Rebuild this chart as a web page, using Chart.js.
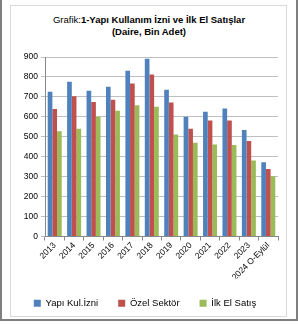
<!DOCTYPE html>
<html>
<head>
<meta charset="utf-8">
<script src="https://cdn.jsdelivr.net/npm/chart.js@4"></script>
<style>
  html, body { margin: 0; padding: 0; background: #fff; }
  #wrap { position: relative; width: 298px; height: 324px; overflow: hidden; }
  #outer { position: absolute; left: 0; top: 0; width: 294px; height: 319px; border: 2px solid #7f7f7f; border-top: none; }
  #inner { position: absolute; left: 10px; top: 5px; width: 275px; height: 310px; border: 1px solid #d9d9d9; }
  #title { position: absolute; left: 0; top: 14px; width: 298px; text-align: center;
           font-family: 'Liberation Sans', 'Noto Sans', sans-serif; font-size: 9.5px; line-height: 12px; color: #000; }
  canvas { position: absolute; left: 0; top: 0; }
</style>
</head>
<body>
<div id="wrap">
  <div id="outer"></div>
  <div id="inner"></div>
  <div id="title">Grafik:<b>1-Yapı Kullanım İzni ve İlk El Satışlar</b><br><b>(Daire, Bin Adet)</b></div>
  <canvas id="chart" width="298" height="324"></canvas>
</div>
<script>
// Data (bin adet)
const years = ['2013', '2014', '2015', '2016', '2017', '2018', '2019', '2020', '2021', '2022', '2023', '2024 O-Eylül'];
const yapiKulIzni = [726, 776, 731, 751, 831, 891, 736, 600, 625, 642, 534, 372];
const ozelSektor = [639, 703, 675, 686, 767, 812, 672, 540, 581, 581, 479, 339];
const ilkElSatis = [528, 540, 600, 630, 658, 650, 511, 470, 461, 459, 381, 302];
const yTicks = [0, 100, 200, 300, 400, 500, 600, 700, 800, 900];

const font = "'Liberation Sans', 'Noto Sans', sans-serif";
Chart.defaults.font.family = font;
Chart.defaults.color = '#000';

const ctx = document.getElementById('chart').getContext('2d');
new Chart(ctx, {
    type: 'bar',
    data: {
        labels: years,
        datasets: [
            { label: 'Yapı Kul.İzni', data: yapiKulIzni, backgroundColor: '#4f81bd' },
            { label: 'Özel Sektör', data: ozelSektor, backgroundColor: '#c0504d' },
            { label: 'İlk El Satış', data: ilkElSatis, backgroundColor: '#9bbb59' }
        ]
    },
    options: {
        responsive: false,
        animation: false,
        layout: { padding: { left: 12, right: 20, top: 57, bottom: 6 } },
        datasets: {
            bar: { categoryPercentage: 0.72, barPercentage: 1.0 }
        },
        scales: {
            x: {
                afterFit: s => { s.height = 42; },
                grid: { offset: true, drawOnChartArea: false, color: '#888', tickLength: 4 },
                border: { color: '#888' },
                ticks: { font: { size: 8.5 }, maxRotation: 45, minRotation: 45, padding: 0 }
            },
            y: {
                min: 0, max: 900,
                afterFit: s => { s.width = 33; },
                afterBuildTicks: s => { s.ticks = yTicks.map(v => ({ value: v })); },
                grid: { color: '#bfbfbf', tickLength: 4 },
                border: { color: '#888' },
                ticks: { font: { size: 8.5 }, padding: 3 }
            }
        },
        plugins: {
            legend: {
                position: 'bottom',
                labels: { boxWidth: 7, boxHeight: 7, padding: 20, font: { size: 9.5 } }
            },
            tooltip: { enabled: false }
        }
    }
});
</script>
</body>
</html>
